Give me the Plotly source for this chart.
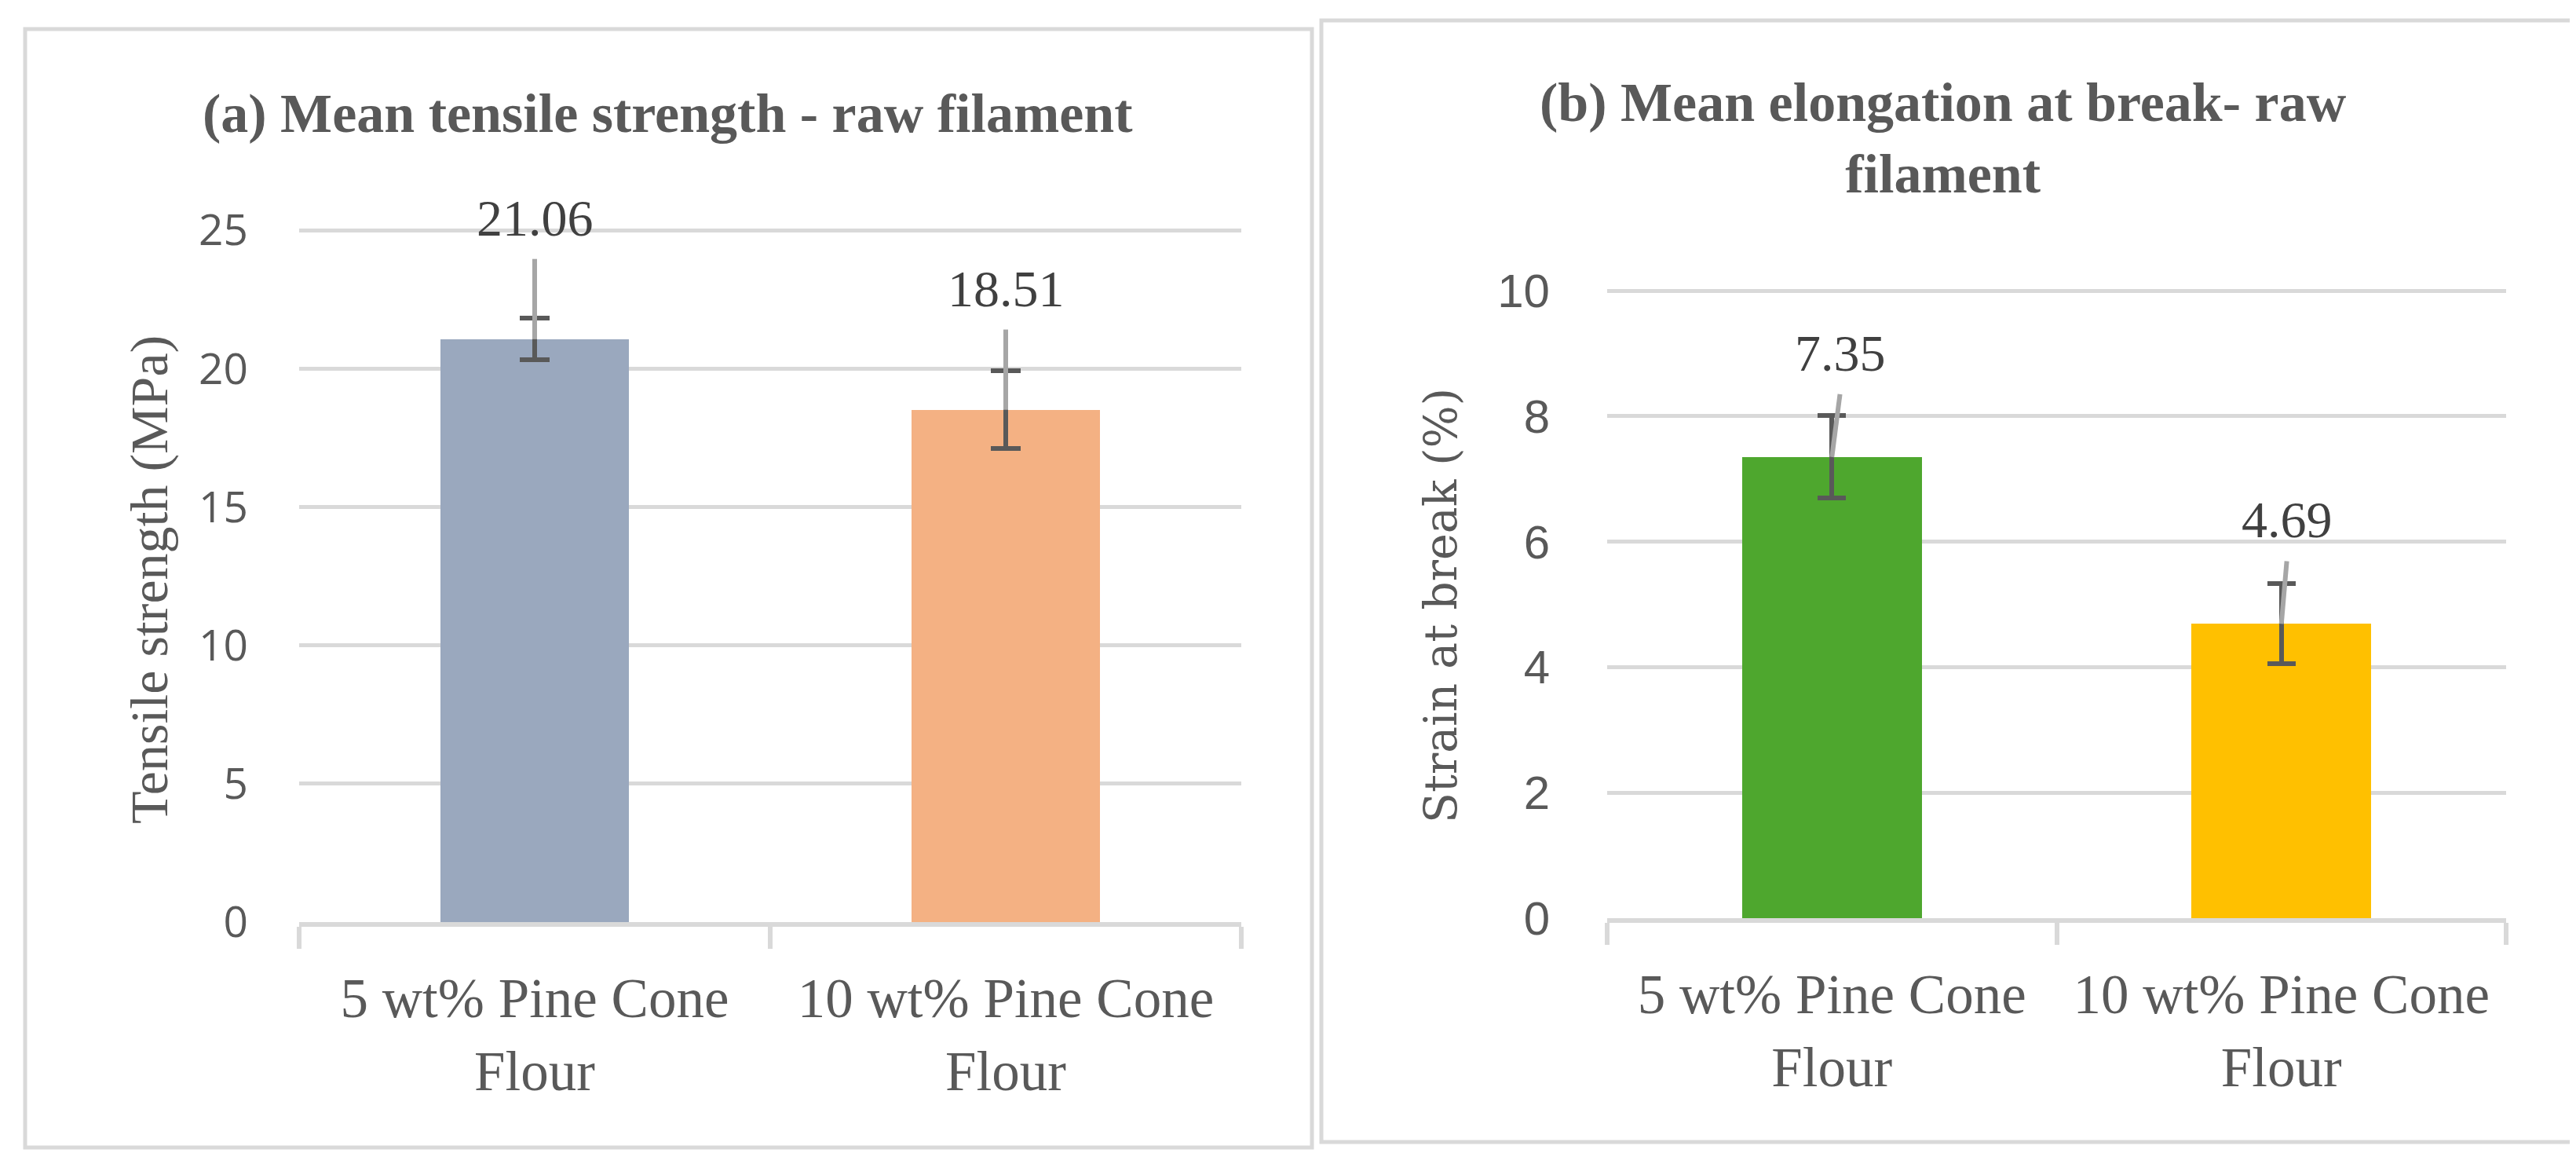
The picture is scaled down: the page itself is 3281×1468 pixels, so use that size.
import plotly.graph_objects as go

# data
categories = ["5 wt% Pine Cone<br>Flour", "10 wt% Pine Cone<br>Flour"]
tensile = [21.06, 18.51]
tensile_err = [0.75, 1.40]
strain = [7.35, 4.69]
strain_err = [0.66, 0.64]
tensile_ticks = [0, 5, 10, 15, 20, 25]
strain_ticks = [0, 2, 4, 6, 8, 10]

W, H = 3281, 1468
GRID = "#D9D9D9"
TXT = "#595959"
SERIF = "Liberation Serif"


def px(x):
    return x / W


def py(y):
    return 1 - y / H


fig = go.Figure()

panels = [
    dict(xa="x", ya="y", vals=tensile, err=tensile_err, colors=["#9AA8BE", "#F4B183"],
         lift=2.9, dx=[0, 0], cap=19),
    dict(xa="x2", ya="y2", vals=strain, err=strain_err, colors=["#4EA72E", "#FFC000"],
         lift=1.0, dx=[0.018, 0.012], cap=18),
]

for p in panels:
    xs = list(range(len(p["vals"])))
    fig.add_trace(go.Bar(
        x=xs, y=p["vals"], width=0.4, marker=dict(color=p["colors"], line=dict(width=0)),
        error_y=dict(type="data", array=p["err"], color=TXT, thickness=6, width=p["cap"]),
        xaxis=p["xa"], yaxis=p["ya"], showlegend=False, hoverinfo="skip"))
    # leader lines from the data labels down to the bar tops
    for i, v in enumerate(p["vals"]):
        top = v + p["lift"]
        fig.add_trace(go.Scatter(
            x=[i, i + p["dx"][i]], y=[v, top], mode="lines",
            line=dict(color="#A6A6A6", width=6), xaxis=p["xa"], yaxis=p["ya"],
            showlegend=False, hoverinfo="skip"))
        fig.add_annotation(
            x=i + p["dx"][i], y=top, xref=p["xa"], yref=p["ya"], text=f"{v:.2f}",
            showarrow=False, xanchor="center", yanchor="bottom", yshift=14,
            font=dict(family=SERIF, size=66, color="#404040"))

xcommon = dict(range=[-0.5, 1.5], tickmode="array", tickvals=[0, 1], ticktext=categories,
               ticks="", showgrid=False, zeroline=False, showline=True, linecolor=GRID,
               linewidth=6, ticklabelstandoff=30, automargin=False,
               tickfont=dict(family=SERIF, size=71, color=TXT),
               minor=dict(tickmode="array", tickvals=[-0.5, 0.5, 1.5], ticks="outside",
                          ticklen=28, tickwidth=6, tickcolor=GRID, showgrid=False))

fig.update_layout(
    width=W, height=H, margin=dict(l=0, r=0, t=0, b=0, pad=0, autoexpand=False),
    paper_bgcolor="white", plot_bgcolor="white", bargap=0,
    xaxis=dict(domain=[px(373), px(1573)], anchor="y", **xcommon),
    xaxis2=dict(domain=[px(2039), px(3184)], anchor="y2", **xcommon),
    yaxis=dict(domain=[py(1166), py(284)], anchor="x", range=[0, 25.03],
               tickmode="array", tickvals=tensile_ticks, showgrid=True, gridcolor=GRID,
               gridwidth=5, zeroline=False, showline=False, ticks="", ticklabelstandoff=64,
               automargin=False, tickfont=dict(family="Open Sans", size=55, color=TXT)),
    yaxis2=dict(domain=[py(1161), py(361)], anchor="x2", range=[0, 10.013],
                tickmode="array", tickvals=strain_ticks, showgrid=True, gridcolor=GRID,
                gridwidth=5, zeroline=False, showline=False, ticks="", ticklabelstandoff=72,
                automargin=False, tickfont=dict(family="Liberation Sans", size=60, color=TXT)),
)

# panel frames
fig.add_shape(type="rect", xref="paper", yref="paper", x0=px(24), x1=px(1663),
              y0=py(1453), y1=py(29), line=dict(color=GRID, width=5), fillcolor="rgba(0,0,0,0)")
fig.add_shape(type="rect", xref="paper", yref="paper", x0=px(1675), x1=px(3272),
              y0=py(1446), y1=py(18), line=dict(color=GRID, width=5), fillcolor="rgba(0,0,0,0)")

# titles
fig.add_annotation(x=px(843), y=py(136), xref="paper", yref="paper", showarrow=False,
                   xanchor="center", yanchor="middle",
                   text="<b>(a) Mean tensile strength - raw filament</b>",
                   font=dict(family=SERIF, size=70, color=TXT))
fig.add_annotation(x=px(2467), y=py(168), xref="paper", yref="paper", showarrow=False,
                   xanchor="center", yanchor="middle",
                   text="<b>(b) Mean elongation at break- raw<br>filament</b>",
                   font=dict(family=SERIF, size=70, color=TXT))

# axis titles
fig.add_annotation(x=px(182), y=py(730), xref="paper", yref="paper", showarrow=False,
                   xanchor="center", yanchor="middle",
                   text="Tensile strength (MPa)", textangle=-90,
                   font=dict(family=SERIF, size=68, color=TXT))
fig.add_annotation(x=px(1827), y=py(763), xref="paper", yref="paper", showarrow=False,
                   xanchor="center", yanchor="middle",
                   text="Strain at break (%)", textangle=-90,
                   font=dict(family="DejaVu Serif", size=57, color=TXT))

fig.write_html("out.html")
